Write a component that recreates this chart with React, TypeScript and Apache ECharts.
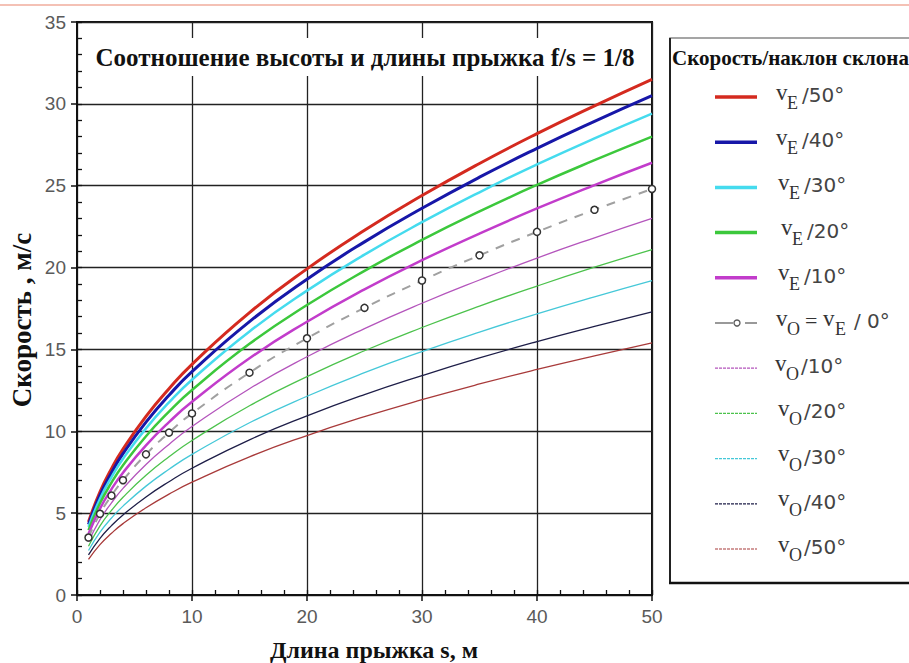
import React, { useEffect, useRef } from "react";
import * as echarts from "echarts";

// Jump length s, m
const sValues = [1, 2, 3, 4, 6, 8, 10, 15, 20, 25, 30, 35, 40, 45, 50];

// Speeds (m/s)
const vE50 = [4.46, 6.3, 7.72, 8.91, 10.91, 12.6, 14.09, 17.25, 19.92, 22.28, 24.4, 26.36, 28.18, 29.88, 31.5];
const vE40 = [4.31, 6.1, 7.47, 8.63, 10.56, 12.2, 13.64, 16.7, 19.29, 21.57, 23.62, 25.52, 27.28, 28.93, 30.5];
const vE30 = [4.16, 5.88, 7.2, 8.32, 10.18, 11.76, 13.15, 16.1, 18.59, 20.79, 22.77, 24.6, 26.3, 27.89, 29.4];
const vE20 = [3.96, 5.6, 6.86, 7.92, 9.7, 11.2, 12.52, 15.34, 17.71, 19.8, 21.69, 23.43, 25.05, 26.56, 28.0];
const vE10 = [3.73, 5.28, 6.47, 7.47, 9.14, 10.56, 11.8, 14.46, 16.69, 18.67, 20.45, 22.08, 23.61, 25.04, 26.4];
const vO0 = [3.51, 4.96, 6.07, 7.01, 8.59, 9.92, 11.09, 13.58, 15.68, 17.54, 19.21, 20.75, 22.18, 23.53, 24.8];
const vO10 = [3.25, 4.6, 5.63, 6.51, 7.97, 9.2, 10.29, 12.6, 14.55, 16.27, 17.82, 19.24, 20.58, 21.82, 23.0];
const vO20 = [2.98, 4.22, 5.17, 5.97, 7.31, 8.44, 9.44, 11.56, 13.34, 14.92, 16.34, 17.65, 18.87, 20.02, 21.1];
const vO30 = [2.72, 3.84, 4.7, 5.43, 6.65, 7.68, 8.59, 10.52, 12.14, 13.58, 14.87, 16.06, 17.17, 18.21, 19.2];
const vO40 = [2.45, 3.46, 4.24, 4.89, 5.99, 6.92, 7.74, 9.48, 10.94, 12.24, 13.4, 14.48, 15.48, 16.41, 17.3];
const vO50 = [2.18, 3.08, 3.77, 4.36, 5.33, 6.16, 6.89, 8.44, 9.74, 10.89, 11.93, 12.89, 13.78, 14.61, 15.4];

const xTicks = [0, 10, 20, 30, 40, 50];
const yTicks = [0, 5, 10, 15, 20, 25, 30, 35];

const titleText = "Соотношение высоты и длины прыжка f/s = 1/8";
const legendTitle = "Скорость/наклон склона";
const xName = "Длина прыжка s, м";
const yName = "Скорость , м/с";

type Curve = {
  name: string;
  sub: string;
  rest: string;
  data: number[];
  color: string;
  width: number;
  thin: boolean;
  markers?: boolean;
};

const curves: Curve[] = [
  { name: "vE/50°", sub: "E", rest: "/50°", data: vE50, color: "#d42a1f", width: 3, thin: false },
  { name: "vE/40°", sub: "E", rest: "/40°", data: vE40, color: "#1717a8", width: 3, thin: false },
  { name: "vE/30°", sub: "E", rest: "/30°", data: vE30, color: "#45dbee", width: 2.5, thin: false },
  { name: "vE/20°", sub: "E", rest: "/20°", data: vE20, color: "#3cc83c", width: 2.5, thin: false },
  { name: "vE/10°", sub: "E", rest: "/10°", data: vE10, color: "#c23ccb", width: 2.5, thin: false },
  { name: "vO=vE/0°", sub: "O", rest: "", data: vO0, color: "#a0a0a0", width: 2, thin: false, markers: true },
  { name: "vO/10°", sub: "O", rest: "/10°", data: vO10, color: "#b455bc", width: 1.3, thin: true },
  { name: "vO/20°", sub: "O", rest: "/20°", data: vO20, color: "#4cc24c", width: 1.3, thin: true },
  { name: "vO/30°", sub: "O", rest: "/30°", data: vO30, color: "#45c8d8", width: 1.3, thin: true },
  { name: "vO/40°", sub: "O", rest: "/40°", data: vO40, color: "#1e1e48", width: 1.3, thin: true },
  { name: "vO/50°", sub: "O", rest: "/50°", data: vO50, color: "#a83a3a", width: 1.3, thin: true },
];

const SERIF = '"Liberation Serif", "Times New Roman", serif';
const SANS = '"Liberation Sans", Arial, sans-serif';
const LSANS = '"DejaVu Sans", sans-serif';

function legendGraphics(): any[] {
  const els: any[] = [];
  els.push({
    type: "rect",
    shape: { x: 670, y: 38, width: 260, height: 545 },
    style: { fill: "#fff", stroke: "#888", lineWidth: 1.5 },
    z: 1,
  });
  els.push({ type: "line", shape: { x1: 670, y1: 38, x2: 670, y2: 584 }, style: { stroke: "#222", lineWidth: 2 }, z: 2 });
  els.push({ type: "line", shape: { x1: 669, y1: 583, x2: 909, y2: 583 }, style: { stroke: "#111", lineWidth: 2.5 }, z: 2 });
  els.push({
    type: "text",
    x: 672,
    y: 58,
    style: { text: legendTitle, font: `bold 21px ${SERIF}`, fill: "#111", verticalAlign: "middle", align: "left" },
    z: 3,
  });
  const xOff = [776, 776, 778, 781, 778, 776, 775, 778, 778, 778, 778];
  curves.forEach((c, i) => {
    const y = 97 + i * 45.2;
    if (c.markers) {
      els.push({ type: "line", shape: { x1: 715, y1: y, x2: 733, y2: y }, style: { stroke: "#777", lineWidth: 1.5 }, z: 3 });
      els.push({ type: "circle", shape: { cx: 737, cy: y, r: 3 }, style: { fill: "#fff", stroke: "#555", lineWidth: 1.3 }, z: 3 });
      els.push({ type: "line", shape: { x1: 745, y1: y, x2: 757, y2: y }, style: { stroke: "#777", lineWidth: 1.5 }, z: 3 });
    } else {
      els.push({
        type: "line",
        shape: { x1: 715, y1: y, x2: 757, y2: y },
        style: {
          stroke: c.color,
          lineWidth: c.thin ? 1.2 : 3.5,
          lineDash: c.thin ? [3, 1] : null,
        },
        z: 3,
      });
    }
    const x = xOff[i];
    els.push({ type: "text", x, y: y - 5, style: { text: "v", font: `23px ${SERIF}`, fill: "#333", verticalAlign: "middle" }, z: 3 });
    els.push({ type: "text", x: x + 11, y: y + 6, style: { text: c.sub, font: `18px ${SERIF}`, fill: "#333", verticalAlign: "middle" }, z: 3 });
    if (c.markers) {
      els.push({ type: "text", x: x + 29, y: y - 3, style: { text: "=", font: `22px ${SERIF}`, fill: "#333", verticalAlign: "middle" }, z: 3 });
      els.push({ type: "text", x: x + 47, y: y - 5, style: { text: "v", font: `23px ${SERIF}`, fill: "#333", verticalAlign: "middle" }, z: 3 });
      els.push({ type: "text", x: x + 59, y: y + 6, style: { text: "E", font: `18px ${SERIF}`, fill: "#333", verticalAlign: "middle" }, z: 3 });
      els.push({ type: "text", x: x + 78, y: y - 2, style: { text: "/ 0°", font: `20px ${LSANS}`, fill: "#444", verticalAlign: "middle" }, z: 3 });
    } else {
      els.push({ type: "text", x: x + 26, y: y - 2, style: { text: c.rest, font: `20px ${LSANS}`, fill: "#444", verticalAlign: "middle" }, z: 3 });
    }
  });
  return els;
}

export default function App() {
  const ref = useRef<HTMLDivElement>(null);
  useEffect(() => {
    if (!ref.current) return;
    const chart = echarts.init(ref.current, null, { renderer: "svg" });
    const series: any[] = curves.map((c) => ({
      type: "line",
      name: c.name,
      data: sValues.map((s, i) => [s, c.data[i]]),
      smooth: 0.5,
      showSymbol: !!c.markers,
      symbol: "circle",
      symbolSize: 7,
      itemStyle: c.markers ? { color: "#fff", borderColor: "#333", borderWidth: 1.5 } : { color: c.color },
      lineStyle: { color: c.color, width: c.width, type: c.markers ? [9, 8] : "solid" },
      z: c.markers ? 5 : 3,
      silent: true,
    }));
    const axisLabelStyle = { color: "#5a5a5a", fontSize: 19, fontFamily: SANS };
    const innerTicks = { show: true, inside: true, length: 5, lineStyle: { color: "#111", width: 1.3 } };
    chart.setOption({
      animation: false,
      backgroundColor: "#fff",
      grid: {
        left: 77,
        top: 22,
        right: 257,
        bottom: 68,
        show: true,
        borderColor: "#111",
        borderWidth: 2,
        backgroundColor: "transparent",
      },
      xAxis: [
        {
          type: "value",
          min: xTicks[0],
          max: xTicks[xTicks.length - 1],
          interval: 10,
          axisLine: { show: true, lineStyle: { color: "#111", width: 2 } },
          axisTick: { show: true, length: 6, lineStyle: { color: "#111", width: 1.5 } },
          axisLabel: { ...axisLabelStyle, margin: 12 },
          splitLine: { show: true, lineStyle: { color: "#222", width: 1.3 } },
        },
        {
          type: "value",
          min: 0,
          max: 50,
          interval: 2,
          position: "bottom",
          axisLine: { show: false },
          axisTick: innerTicks,
          axisLabel: { show: false },
          splitLine: { show: false },
        },
      ],
      yAxis: [
        {
          type: "value",
          min: yTicks[0],
          max: yTicks[yTicks.length - 1],
          interval: 5,
          axisLine: { show: true, lineStyle: { color: "#111", width: 2 } },
          axisTick: { show: true, length: 6, lineStyle: { color: "#111", width: 1.5 } },
          axisLabel: { ...axisLabelStyle, margin: 11 },
          splitLine: { show: true, lineStyle: { color: "#222", width: 1.3 } },
        },
        {
          type: "value",
          min: 0,
          max: 35,
          interval: 1,
          position: "left",
          axisLine: { show: false },
          axisTick: innerTicks,
          axisLabel: { show: false },
          splitLine: { show: false },
        },
      ],
      series,
      graphic: [
        { type: "line", shape: { x1: 0, y1: 5, x2: 909, y2: 5 }, style: { stroke: "#f0ac9c", lineWidth: 1.5 }, z: 1 },
        {
          type: "text",
          x: 365,
          y: 57,
          z: 10,
          style: {
            text: titleText,
            font: `bold 25px ${SERIF}`,
            fill: "#111",
            align: "center",
            verticalAlign: "middle",
            backgroundColor: "#fff",
            padding: [3, 4, 10, 4],
          },
        },
        {
          type: "text",
          x: 374,
          y: 650,
          style: { text: xName, font: `bold 24px ${SERIF}`, fill: "#111", align: "center", verticalAlign: "middle" },
        },
        {
          type: "text",
          x: 22,
          y: 320,
          rotation: Math.PI / 2,
          style: { text: yName, font: `bold 27px ${SERIF}`, fill: "#111", align: "center", verticalAlign: "middle" },
        },
        ...legendGraphics(),
      ],
    });
    return () => chart.dispose();
  }, []);
  return (
    <div
      ref={ref}
      style={{ position: "fixed", left: 0, top: 0, width: 909, height: 663, background: "#fff" }}
    />
  );
}
